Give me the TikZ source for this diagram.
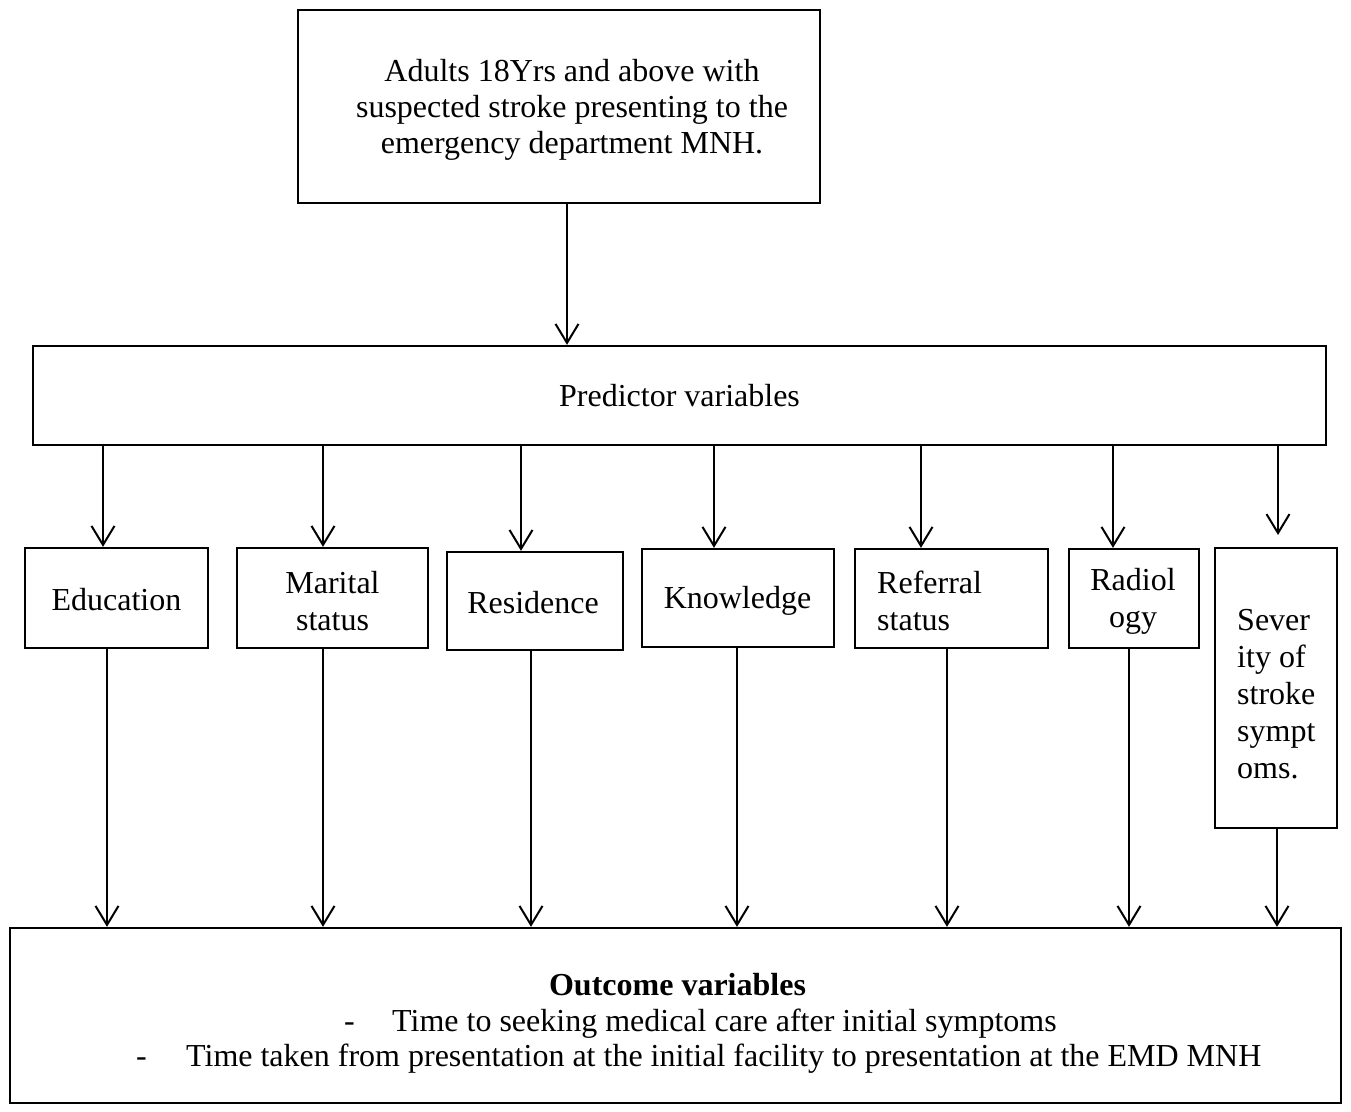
\documentclass[tikz,border=0pt]{standalone}
\usepackage{fontspec}
\setmainfont{Liberation Serif}
\usetikzlibrary{arrows.meta}
\begin{document}
\begin{tikzpicture}[x=1pt,y=-1pt,
  font=\fontsize{32}{37}\selectfont,
  box/.style={draw,line width=2.3pt,inner sep=0pt},
  txt/.style={inner sep=0pt,align=center},
  ltxt/.style={inner sep=0pt,align=left},
  arr/.style={line width=2pt,-{Straight Barb[length=19pt,width=23pt,line width=2pt]}}]
\useasboundingbox (0,0) rectangle (1351,1111);
% boxes
\node[box,minimum width=522pt,minimum height=193pt] (top) at (559,106.5) {};
\node[txt,font=\fontsize{32}{36}\selectfont] (toptext) at (572,110) {Adults 18Yrs and above with\\suspected stroke presenting to the\\emergency department MNH.};
\node[box,minimum width=1293pt,minimum height=99pt] (pred) at (679.5,395.5) {Predictor variables};
\node[box,minimum width=183pt,minimum height=100pt] (edu) at (116.5,598) {};
\node[txt] (edut) at (116.5,600) {Education};
\node[box,minimum width=191pt,minimum height=100pt] (mar) at (332.5,598) {};
\node[txt] (mart) at (332.5,601) {Marital\\status};
\node[box,minimum width=176pt,minimum height=98pt] (res) at (535,601) {};
\node[txt] (rest) at (533,603) {Residence};
\node[box,minimum width=192pt,minimum height=98pt] (kno) at (738,598) {};
\node[txt] (knot) at (737.5,601) {Knowledge};
\node[box,minimum width=193pt,minimum height=99pt] (ref) at (951.5,598.5) {};
\node[ltxt,anchor=west] (reft) at (877,601) {Referral\\status};
\node[box,minimum width=130pt,minimum height=99pt] (rad) at (1134,598.5) {};
\node[txt] (radt) at (1133,601) {Radiol\\ogy};
\node[box,minimum width=122pt,minimum height=280pt] (sev) at (1276,688) {};
\node[ltxt,anchor=west] (sevt) at (1237,694) {Sever\\ity of\\stroke\\sympt\\oms.};
\node[box,minimum width=1331pt,minimum height=175pt] (out) at (675.5,1015.5) {};
\node[inner sep=0pt,anchor=base] (outt) at (677.5,995) {\bfseries Outcome variables};
\node[inner sep=0pt,anchor=base west] (d1) at (344,1031) {-};
\node[inner sep=0pt,anchor=base west] (l1) at (392,1031) {Time to seeking medical care after initial symptoms};
\node[inner sep=0pt,anchor=base west] (d2) at (136,1066) {-};
\node[inner sep=0pt,anchor=base west] (l2) at (186,1066) {Time taken from presentation at the initial facility to presentation at the EMD MNH};
% x positions
\coordinate (a0) at (567,0);
\coordinate (a1) at (103,0);
\coordinate (a2) at (323,0);
\coordinate (a3) at (521,0);
\coordinate (a4) at (714,0);
\coordinate (a5) at (921,0);
\coordinate (a6) at (1113,0);
\coordinate (a7) at (1278,0);
\coordinate (b1) at (107,0);
\coordinate (b2) at (323,0);
\coordinate (b3) at (531,0);
\coordinate (b4) at (737,0);
\coordinate (b5) at (947,0);
\coordinate (b6) at (1129,0);
\coordinate (b7) at (1277,0);
\coordinate (sevtip) at (1278,535);
% connectors
\draw[arr] (top.south -| a0) -- (pred.north -| a0);
\draw[arr] (pred.south -| a1) -- (edu.north -| a1);
\draw[arr] (pred.south -| a2) -- (mar.north -| a2);
\draw[arr] (pred.south -| a3) -- (res.north -| a3);
\draw[arr] (pred.south -| a4) -- (kno.north -| a4);
\draw[arr] (pred.south -| a5) -- (ref.north -| a5);
\draw[arr] (pred.south -| a6) -- (rad.north -| a6);
\draw[arr] (pred.south -| a7) -- (sevtip);
\draw[arr] (edu.south -| b1) -- (out.north -| b1);
\draw[arr] (mar.south -| b2) -- (out.north -| b2);
\draw[arr] (res.south -| b3) -- (out.north -| b3);
\draw[arr] (kno.south -| b4) -- (out.north -| b4);
\draw[arr] (ref.south -| b5) -- (out.north -| b5);
\draw[arr] (rad.south -| b6) -- (out.north -| b6);
\draw[arr] (sev.south -| b7) -- (out.north -| b7);
\end{tikzpicture}
\end{document}
